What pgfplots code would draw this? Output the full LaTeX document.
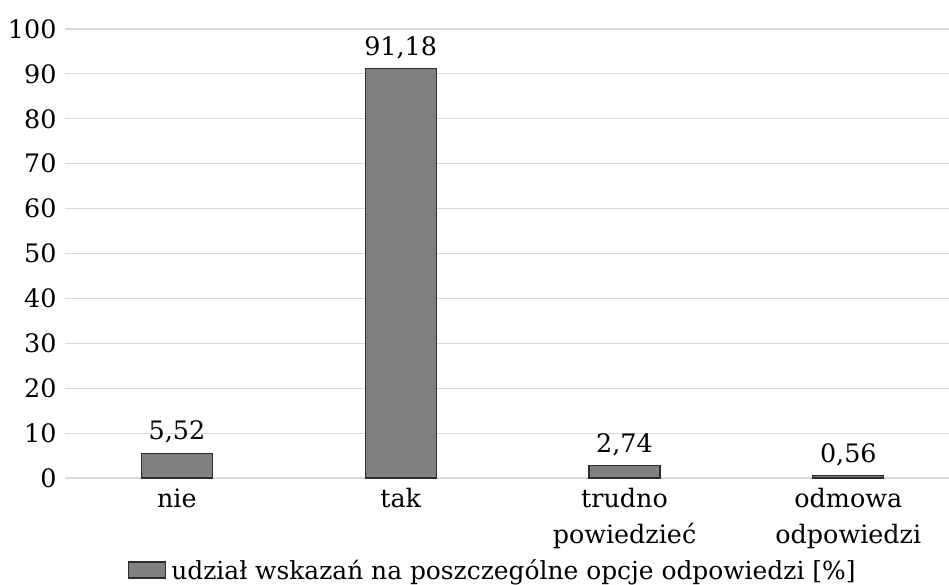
\documentclass[border=0pt]{standalone}
\usepackage{fontspec}
\setmainfont{DejaVu Serif}
\usepackage{pgfplots}
\pgfplotsset{compat=1.18}
\definecolor{barfill}{RGB}{128,128,131}
\definecolor{bardraw}{RGB}{45,45,45}
\definecolor{gridc}{RGB}{217,217,217}
\begin{document}
\begin{tikzpicture}
\begin{axis}[
  scale only axis, width=884bp, height=449bp,
  xmin=-0.5, xmax=3.45, ymin=0, ymax=100,
  ytick={0,10,...,100},
  xtick=data,
  xticklabels={nie, tak, trudno\\powiedzieć, odmowa\\odpowiedzi},
  x tick label style={align=center, font=\fontsize{25.5}{36}\selectfont, yshift=-7bp},
  y tick label style={font=\fontsize{25.5}{29}\selectfont, xshift=-5bp},
  /pgf/number format/assume math mode=true,
  major tick length=0pt,
  axis line style={draw=none},
  axis x line*=bottom,
  x axis line style={draw=gridc, line width=1.2bp},
  ymajorgrids, grid style={gridc, line width=1.2bp},
  ybar, bar width=71bp,
  nodes near coords,
  nodes near coords style={font=\fontsize{25.5}{29}\selectfont, yshift=6bp,
    /pgf/number format/.cd, fixed, fixed zerofill, precision=2, use comma},
  legend style={draw=none, fill=none, font=\fontsize{25}{29}\selectfont,
    at={(0.484,-0.205)}, anchor=center, inner sep=0pt},
  legend image code/.code={\draw[#1] (0bp,-8bp) rectangle (37bp,8bp); \path (40bp,0bp);},
  clip=false,
]
\addplot[fill=barfill, draw=bardraw, line width=1.2bp] coordinates
  {(0,5.52) (1,91.18) (2,2.74) (3,0.56)};
\addlegendentry{udział wskazań na poszczególne opcje odpowiedzi [\%]}
\end{axis}
\pgfresetboundingbox
\path (current axis.south west) ++(-65bp,-107bp) coordinate (bl);
\path (current axis.north east) ++(0bp,29bp) coordinate (tr);
\path[use as bounding box] (bl) rectangle (tr);
\end{tikzpicture}
\end{document}
